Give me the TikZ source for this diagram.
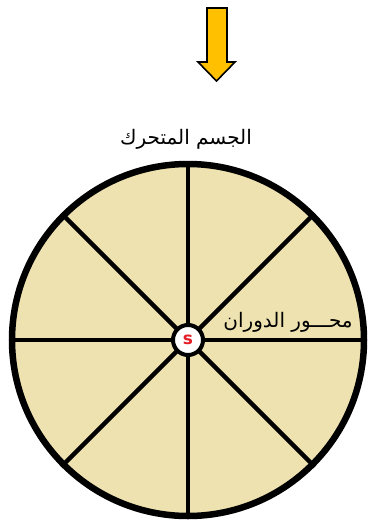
\documentclass[tikz,border=0pt]{standalone}
\usepackage{fontspec}
\newfontfamily\arabicfont[Script=Arabic]{DejaVu Sans}
\newfontfamily\labelfont{DejaVu Sans}
\TeXXeTstate=1
\definecolor{wheelfill}{RGB}{238,227,176}
\definecolor{arrowfill}{RGB}{255,192,0}
\definecolor{hubred}{RGB}{230,30,40}

\begin{document}
\begin{tikzpicture}[x=1pt, y=-1pt,
    rim/.style={circle, draw, line width=6.5pt, fill=wheelfill, minimum size=352pt, inner sep=0pt},
    spoke/.style={line width=4.5pt},
    hub/.style={circle, draw, line width=4pt, fill=white, minimum size=30pt, inner sep=0pt, font=\labelfont\bfseries\fontsize{17}{17}\selectfont, text=hubred},
    lbl/.style={font=\arabicfont\fontsize{20}{22}\selectfont}
  ]
    \useasboundingbox (0,0) rectangle (371,522);

    % falling arrow
    \draw[line width=1.6pt, fill=arrowfill] (207,8) -- (227,8) -- (227,62) -- (235,62)
      -- (216.5,81) -- (198,62) -- (207,62) -- cycle;

    \node[rim] (wheel) at (188,340) {};
    \foreach \a in {0,45,...,315}
      \draw[spoke] (wheel.center) -- (wheel.\a);
    \node[hub] (hub) at (wheel.center) {s};

    \node[lbl] (body) at (186,139) {\beginR الجسم المتحرك\endR};
    \node[lbl] (axis) at (288,322) {\beginR محـــور الدوران\endR};
  \end{tikzpicture}
\end{document}
